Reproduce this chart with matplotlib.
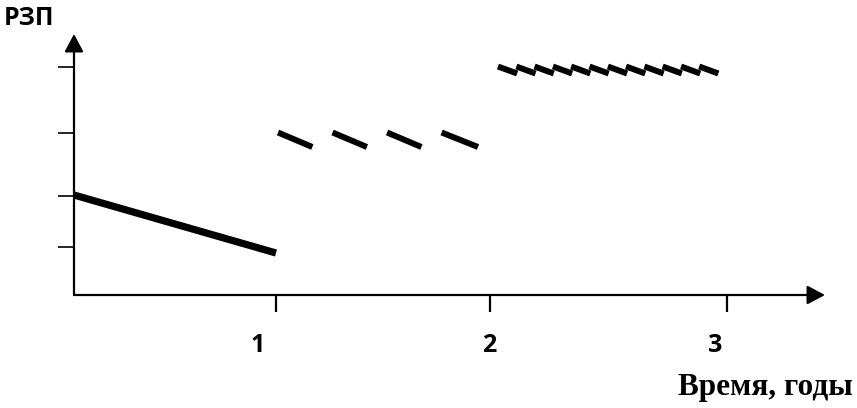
import matplotlib
matplotlib.use("Agg")
import matplotlib.pyplot as plt

# data (x in years, y in arbitrary units)
solid_x = [0.0, 1.0]
solid_y = [2.0, 0.84]

dash_x0 = [1.01, 1.28, 1.55, 1.82]
dash_x1 = [1.18, 1.45, 1.72, 2.00]
dash_y0 = 3.25
dash_y1 = 2.96

zig_x0 = [2.099, 2.190, 2.280, 2.371, 2.461, 2.552, 2.643, 2.733, 2.824, 2.914, 3.005, 3.095]
zig_x1 = [2.194, 2.285, 2.375, 2.466, 2.556, 2.647, 2.738, 2.828, 2.919, 3.009, 3.100, 3.190]
zig_y0 = 4.57
zig_y1 = 4.43

xtick_pos = [1.0, 2.059, 3.233]
xlabel_pos = [0.911, 2.054, 3.173]
xlabels = ["1", "2", "3"]
ytick_pos = [0.96, 1.98, 3.24, 4.56]

W, H = 857, 408
fig = plt.figure(figsize=(W / 100, H / 100), dpi=100)
ax = fig.add_axes([74 / W, (H - 295) / H, (825 - 74) / W, (295 - 34) / H])
ax.set_xlim(0, 3.718)
ax.set_ylim(0, 5.22)
for s in ax.spines.values():
    s.set_visible(False)

# axes with arrows
arrow = dict(arrowstyle="-|>,head_length=1.0,head_width=0.53", lw=1.6, color="black",
             mutation_scale=10.8, shrinkA=0, shrinkB=0)
ax.annotate("", xy=(1, 0), xytext=(0, 0), xycoords="axes fraction", arrowprops=arrow)
ax.annotate("", xy=(0, 1), xytext=(0, 0), xycoords="axes fraction", arrowprops=arrow)

ax.set_xticks(xtick_pos)
ax.set_xticklabels([])
ax.set_yticks(ytick_pos)
ax.set_yticklabels([])
ax.tick_params(axis="x", direction="out", length=12, width=1.6, color="black")
ax.tick_params(axis="y", direction="out", length=11.5, width=1.2, color="black")

# marks
ax.plot(solid_x, solid_y, color="black", lw=5.2, solid_capstyle="butt")
for a, b in zip(dash_x0, dash_x1):
    ax.plot([a, b], [dash_y0, dash_y1], color="black", lw=4.3, solid_capstyle="butt")
for a, b in zip(zig_x0, zig_x1):
    ax.plot([a, b], [zig_y0, zig_y1], color="black", lw=4.3, solid_capstyle="butt")

for p, t in zip(xlabel_pos, xlabels):
    ax.annotate(t, xy=(p, 0), xycoords=("data", "axes fraction"), xytext=(0, -36.5),
                textcoords="offset points", ha="center", va="center",
                fontsize=18, fontweight="bold", family=["Open Sans", "DejaVu Sans"])

fig.text(4 / W, 1 - 25 / H, "РЗП", ha="left", va="baseline", fontsize=18,
         fontweight="bold", family=["Open Sans", "DejaVu Sans"])
fig.text(853 / W, 1 - 395 / H, "Время, годы", ha="right", va="baseline", fontsize=22.5,
         fontweight="bold", family=["Liberation Serif", "DejaVu Serif"])

fig.savefig("out.png", dpi=100)
